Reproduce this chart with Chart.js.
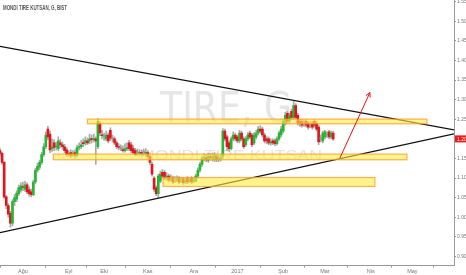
<!DOCTYPE html>
<html>
<head>
<meta charset="utf-8">
<script src="https://cdn.jsdelivr.net/npm/chart.js@4.4.1/dist/chart.umd.min.js"></script>
<style>
  html, body { margin: 0; padding: 0; background: #fff; }
  #wrap { width: 466px; height: 275px; position: relative; }
</style>
</head>
<body>
<div id="wrap"><canvas id="tireChart"></canvas></div>
<script>
// --- data (bar index = trading day) ---
const openP = [
  1.170, 1.163, 1.140, 1.052, 1.030, 1.010, 0.985, 1.040, 1.046, 1.060,
  1.070, 1.078, 1.072, 1.083, 1.070, 1.065, 1.058, 1.090, 1.120, 1.128,
  1.140, 1.160, 1.180, 1.225, 1.212, 1.175, 1.190, 1.180, 1.175, 1.190,
  1.185, 1.180, 1.172, 1.162, 1.165, 1.160, 1.165, 1.158, 1.178, 1.180,
  1.190, 1.190, 1.195, 1.195, 1.200, 1.198, 1.200, 1.180, 1.240, 1.210,
  1.205, 1.200, 1.210, 1.222, 1.200, 1.200, 1.190, 1.180, 1.175, 1.173,
  1.170, 1.175, 1.190, 1.185, 1.175, 1.170, 1.165, 1.163, 1.165, 1.165,
  1.163, 1.165, 1.155, 1.135, 1.100, 1.075, 1.060, 1.092, 1.115, 1.115,
  1.100, 1.105, 1.098, 1.100, 1.095, 1.095, 1.100, 1.095, 1.098, 1.090,
  1.100, 1.093, 1.100, 1.092, 1.092, 1.105, 1.120, 1.135, 1.150, 1.152,
  1.145, 1.155, 1.150, 1.148, 1.155, 1.148, 1.150, 1.155, 1.220, 1.205,
  1.190, 1.175, 1.200, 1.210, 1.205, 1.195, 1.215, 1.200, 1.185, 1.200,
  1.215, 1.210, 1.190, 1.205, 1.215, 1.225, 1.225, 1.210, 1.200, 1.200,
  1.190, 1.195, 1.195, 1.188, 1.200, 1.210, 1.220, 1.240, 1.265, 1.245,
  1.270, 1.255, 1.285, 1.260, 1.245, 1.245, 1.240, 1.245, 1.240, 1.235,
  1.240, 1.245, 1.240, 1.230, 1.200, 1.195, 1.205, 1.210, 1.218, 1.205,
  1.215
];
const highP = [
  1.176, 1.166, 1.142, 1.056, 1.035, 1.015, 1.045, 1.058, 1.068, 1.082,
  1.088, 1.090, 1.092, 1.088, 1.078, 1.072, 1.095, 1.125, 1.138, 1.146,
  1.166, 1.188, 1.218, 1.232, 1.220, 1.200, 1.198, 1.192, 1.205, 1.198,
  1.192, 1.186, 1.178, 1.170, 1.172, 1.170, 1.172, 1.184, 1.190, 1.196,
  1.200, 1.205, 1.202, 1.212, 1.210, 1.212, 1.205, 1.252, 1.245, 1.222,
  1.215, 1.220, 1.215, 1.228, 1.210, 1.205, 1.195, 1.188, 1.185, 1.182,
  1.188, 1.190, 1.196, 1.192, 1.182, 1.176, 1.174, 1.172, 1.172, 1.174,
  1.175, 1.170, 1.158, 1.140, 1.104, 1.080, 1.110, 1.118, 1.122, 1.120,
  1.114, 1.110, 1.108, 1.105, 1.104, 1.106, 1.104, 1.102, 1.102, 1.100,
  1.104, 1.102, 1.104, 1.102, 1.110, 1.126, 1.140, 1.156, 1.162, 1.160,
  1.164, 1.162, 1.164, 1.165, 1.160, 1.158, 1.160, 1.226, 1.225, 1.210,
  1.195, 1.205, 1.218, 1.215, 1.210, 1.222, 1.220, 1.205, 1.206, 1.216,
  1.220, 1.214, 1.216, 1.222, 1.232, 1.234, 1.230, 1.215, 1.206, 1.205,
  1.200, 1.200, 1.200, 1.205, 1.220, 1.232, 1.250, 1.268, 1.270, 1.266,
  1.276, 1.295, 1.290, 1.265, 1.250, 1.250, 1.248, 1.250, 1.245, 1.244,
  1.245, 1.250, 1.245, 1.235, 1.210, 1.220, 1.222, 1.218, 1.222, 1.220,
  1.220
];
const lowP = [
  1.158, 1.135, 1.048, 1.022, 1.000, 0.975, 0.978, 1.030, 1.040, 1.055,
  1.064, 1.068, 1.066, 1.060, 1.054, 1.052, 1.055, 1.086, 1.115, 1.122,
  1.135, 1.155, 1.175, 1.198, 1.165, 1.168, 1.170, 1.172, 1.170, 1.178,
  1.174, 1.165, 1.155, 1.155, 1.152, 1.155, 1.150, 1.154, 1.172, 1.175,
  1.180, 1.184, 1.185, 1.188, 1.190, 1.192, 1.135, 1.175, 1.208, 1.200,
  1.196, 1.195, 1.190, 1.196, 1.192, 1.185, 1.175, 1.172, 1.170, 1.166,
  1.166, 1.170, 1.170, 1.165, 1.160, 1.156, 1.158, 1.158, 1.156, 1.158,
  1.156, 1.150, 1.135, 1.105, 1.066, 1.055, 1.050, 1.088, 1.100, 1.096,
  1.095, 1.090, 1.092, 1.086, 1.088, 1.090, 1.086, 1.088, 1.084, 1.086,
  1.086, 1.088, 1.086, 1.088, 1.090, 1.100, 1.115, 1.130, 1.144, 1.142,
  1.140, 1.146, 1.144, 1.142, 1.142, 1.142, 1.144, 1.150, 1.195, 1.170,
  1.168, 1.172, 1.195, 1.195, 1.190, 1.190, 1.195, 1.175, 1.180, 1.195,
  1.200, 1.180, 1.186, 1.200, 1.210, 1.214, 1.205, 1.190, 1.188, 1.185,
  1.184, 1.185, 1.182, 1.184, 1.196, 1.205, 1.215, 1.235, 1.240, 1.240,
  1.250, 1.250, 1.250, 1.235, 1.232, 1.230, 1.232, 1.230, 1.225, 1.228,
  1.225, 1.230, 1.220, 1.185, 1.192, 1.190, 1.200, 1.204, 1.200, 1.200,
  1.196
];
const closeP = [
  1.163, 1.140, 1.052, 1.030, 1.008, 0.985, 1.040, 1.050, 1.062, 1.076,
  1.080, 1.076, 1.083, 1.065, 1.060, 1.058, 1.090, 1.120, 1.130, 1.140,
  1.160, 1.180, 1.210, 1.205, 1.172, 1.180, 1.178, 1.182, 1.195, 1.185,
  1.180, 1.170, 1.160, 1.160, 1.158, 1.162, 1.158, 1.178, 1.180, 1.185,
  1.188, 1.195, 1.190, 1.200, 1.198, 1.200, 1.195, 1.245, 1.215, 1.208,
  1.205, 1.210, 1.195, 1.202, 1.200, 1.190, 1.180, 1.178, 1.175, 1.170,
  1.175, 1.178, 1.175, 1.170, 1.165, 1.160, 1.165, 1.165, 1.163, 1.165,
  1.165, 1.155, 1.140, 1.110, 1.072, 1.060, 1.105, 1.110, 1.105, 1.100,
  1.105, 1.095, 1.100, 1.090, 1.095, 1.098, 1.090, 1.095, 1.088, 1.092,
  1.090, 1.095, 1.090, 1.095, 1.105, 1.120, 1.135, 1.150, 1.152, 1.148,
  1.155, 1.152, 1.155, 1.158, 1.148, 1.150, 1.152, 1.220, 1.200, 1.180,
  1.175, 1.200, 1.210, 1.200, 1.195, 1.215, 1.200, 1.180, 1.200, 1.210,
  1.205, 1.185, 1.210, 1.215, 1.225, 1.220, 1.210, 1.195, 1.195, 1.190,
  1.192, 1.190, 1.188, 1.200, 1.215, 1.225, 1.245, 1.260, 1.245, 1.260,
  1.255, 1.285, 1.255, 1.240, 1.240, 1.235, 1.240, 1.235, 1.230, 1.235,
  1.230, 1.235, 1.225, 1.192, 1.200, 1.215, 1.218, 1.210, 1.205, 1.215,
  1.200
];

const monthPos = [11, 33, 50, 71, 93, 114, 136, 156, 178, 198];
const monthLabels = ['Ağu', 'Eyl', 'Eki', 'Kas', 'Ara', '2017', 'Şub', 'Mar', 'Nis', 'May'];
const priceTicks = [0.90, 0.95, 1.00, 1.05, 1.10, 1.15, 1.20, 1.25, 1.30, 1.35, 1.40, 1.45, 1.50, 1.55];

// drawings: [x0, x1] in bar index, [y0, y1] in price
const upperTrend = [[0, 1.436], [218, 1.223]];
const lowerTrend = [[0, 0.961], [218, 1.213]];
const zones = [
  { x: [42, 205], y: [1.2385, 1.2505] },
  { x: [25.6, 195.4], y: [1.1467, 1.1612] },
  { x: [78.3, 180], y: [1.0786, 1.1015] }
];
const arrowFrom = [163.2, 1.151];
const arrowTo = [177.6, 1.318];

const UP = '#22b832';
const DOWN = '#e3141b';
const FLAT = '#9a9a9a';

function candleColor(i) {
    if (closeP[i] > openP[i]) return UP;
    if (closeP[i] < openP[i]) return DOWN;
    return FLAT;
}

const wickData = openP.map((o, i) => ({ x: i, y: [lowP[i], highP[i]] }));
const bodyData = openP.map((o, i) => ({ x: i, y: [o, closeP[i]] }));

// fits text into a target width (watermarks are stretched in the original)
function fitText(ctx, text, x, y, width, font, color, align) {
    ctx.save();
    ctx.font = font;
    ctx.fillStyle = color;
    ctx.textBaseline = 'middle';
    const w = ctx.measureText(text).width;
    const sx = width / w;
    const left = align === 'center' ? x - width / 2 : x;
    ctx.translate(left, y);
    ctx.scale(sx, 1);
    ctx.textAlign = 'left';
    ctx.fillText(text, 0, 0);
    ctx.restore();
}

const overlayPlugin = {
    id: 'overlay',
    beforeDatasetsDraw(chart) {
        const ctx = chart.ctx;
        fitText(ctx, 'TIRE, G', 226, 111, 132, '42px "Liberation Sans Narrow", "DejaVu Sans", sans-serif', '#e6e6e6', 'center');
        fitText(ctx, 'MONDI TIRE KUTSAN', 231, 156, 182, '15px "Liberation Sans", sans-serif', '#e4e4e4', 'center');
    },
    afterDatasetsDraw(chart) {
        const ctx = chart.ctx;
        const xs = chart.scales.x;
        const ys = chart.scales.y;

        zones.forEach(z => {
            const x0 = xs.getPixelForValue(z.x[0]);
            const x1 = xs.getPixelForValue(z.x[1]);
            const y0 = ys.getPixelForValue(z.y[1]);
            const y1 = ys.getPixelForValue(z.y[0]);
            ctx.save();
            ctx.fillStyle = 'rgba(255, 236, 60, 0.6)';
            ctx.fillRect(x0, y0, x1 - x0, y1 - y0);
            ctx.strokeStyle = 'rgba(255, 150, 40, 0.75)';
            ctx.lineWidth = 1.2;
            ctx.strokeRect(x0, y0, x1 - x0, y1 - y0);
            ctx.restore();
        });

        // red arrow
        const ax0 = xs.getPixelForValue(arrowFrom[0]), ay0 = ys.getPixelForValue(arrowFrom[1]);
        const ax1 = xs.getPixelForValue(arrowTo[0]), ay1 = ys.getPixelForValue(arrowTo[1]);
        const ang = Math.atan2(ay1 - ay0, ax1 - ax0);
        ctx.save();
        ctx.strokeStyle = '#f01010';
        ctx.lineWidth = 1;
        ctx.beginPath();
        ctx.moveTo(ax0, ay0);
        ctx.lineTo(ax1, ay1);
        ctx.moveTo(ax1 - 5 * Math.cos(ang - 0.5), ay1 - 5 * Math.sin(ang - 0.5));
        ctx.lineTo(ax1, ay1);
        ctx.lineTo(ax1 - 5 * Math.cos(ang + 0.5), ay1 - 5 * Math.sin(ang + 0.5));
        ctx.stroke();
        ctx.restore();
    },
    afterDraw(chart) {
        const ctx = chart.ctx;
        const ys = chart.scales.y;
        const area = chart.chartArea;

        fitText(ctx, 'MONDI TIRE KUTSAN, G, BIST', 3, 8, 64, 'bold 7px "Liberation Sans", sans-serif', '#555', 'left');

        // last price tag on the axis
        const last = closeP[closeP.length - 1];
        const py = ys.getPixelForValue(last);
        ctx.save();
        ctx.fillStyle = '#f01818';
        ctx.fillRect(area.right + 1, py - 3.5, 466 - area.right - 1, 7);
        ctx.fillStyle = '#fff';
        ctx.font = '5px "Liberation Sans", sans-serif';
        ctx.textBaseline = 'middle';
        ctx.fillText(last.toFixed(2), area.right + 3, py + 0.3);
        ctx.restore();
    }
};

const ctx = document.getElementById('tireChart');
new Chart(ctx, {
    type: 'bar',
    data: {
        datasets: [
            {
                label: 'wick',
                data: wickData,
                backgroundColor: '#a8a8a8',
                barThickness: 1,
                grouped: false,
                order: 3
            },
            {
                label: 'body',
                data: bodyData,
                backgroundColor: c => candleColor(c.dataIndex),
                barThickness: 2,
                minBarLength: 1,
                grouped: false,
                order: 2
            },
            {
                type: 'line',
                label: 'upper',
                data: upperTrend.map(p => ({ x: p[0], y: p[1] })),
                borderColor: '#111',
                borderWidth: 1.3,
                pointRadius: 0,
                fill: false,
                order: 1
            },
            {
                type: 'line',
                label: 'lower',
                data: lowerTrend.map(p => ({ x: p[0], y: p[1] })),
                borderColor: '#111',
                borderWidth: 1.3,
                pointRadius: 0,
                fill: false,
                order: 1
            }
        ]
    },
    options: {
        responsive: true,
        maintainAspectRatio: false,
        animation: false,
        layout: { padding: 0 },
        plugins: {
            legend: { display: false },
            tooltip: { enabled: false }
        },
        scales: {
            x: {
                type: 'linear',
                min: 0,
                max: 218,
                offset: false,
                grid: { drawOnChartArea: false, tickLength: 2, color: '#999' },
                border: { color: '#999' },
                afterBuildTicks: s => { s.ticks = monthPos.map(v => ({ value: v })); },
                afterFit: s => { s.height = 9.3; s.paddingLeft = 0; s.paddingRight = 0; },
                ticks: {
                    autoSkip: false,
                    maxRotation: 0,
                    padding: 0,
                    color: '#777',
                    font: { size: 5.5, family: '"Liberation Sans Narrow", "Liberation Sans", sans-serif' },
                    callback: (v, i) => monthLabels[i]
                }
            },
            y: {
                position: 'right',
                min: 0.8765,
                max: 1.5543,
                grid: { drawOnChartArea: false, tickLength: 2, color: '#999' },
                border: { color: '#999' },
                afterBuildTicks: s => { s.ticks = priceTicks.map(v => ({ value: v })); },
                afterFit: s => { s.width = 12; s.paddingTop = 0; s.paddingBottom = 0; },
                ticks: {
                    padding: 1,
                    color: '#777',
                    font: { size: 5, family: '"Liberation Sans", sans-serif' },
                    callback: v => v.toFixed(2)
                }
            }
        }
    },
    plugins: [overlayPlugin]
});
</script>
</body>
</html>
